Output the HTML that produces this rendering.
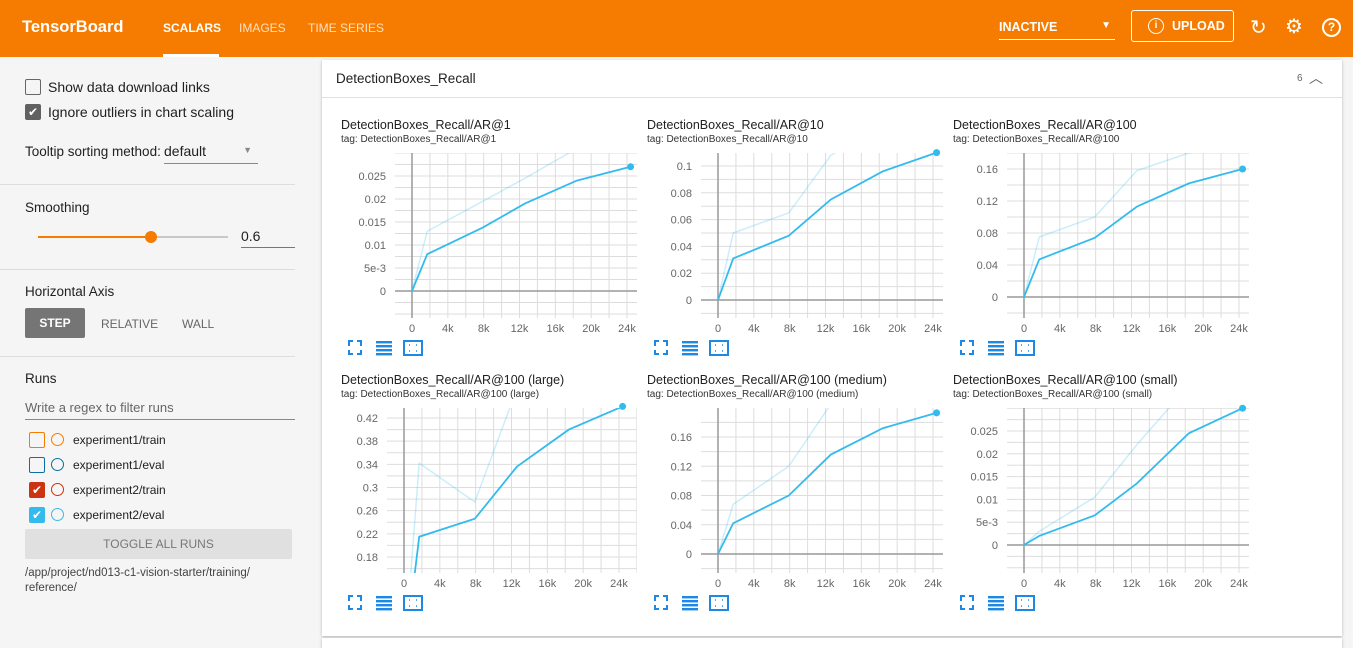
<!DOCTYPE html>
<html><head><meta charset="utf-8"><style>
body{margin:0;width:1353px;height:646px;overflow:hidden;font-family:"Liberation Sans",sans-serif;background:#f5f5f5;position:relative}
.abs{position:absolute}
#hdr{left:0;top:0;width:1353px;height:57px;background:#f57c00;color:#fff}
#side{left:0;top:57px;width:318px;height:589px;background:#f5f5f5;color:#212121;font-size:14px}
.sep{position:absolute;left:0;width:295px;height:1px;background:#ddd}
.cb{position:absolute;width:14px;height:14px;border:1.5px solid #666;border-radius:2px}
#card{left:322px;top:60px;width:1020px;height:576px;background:#fff;box-shadow:0 1px 3px rgba(0,0,0,.25)}
</style></head><body>
<div id="hdr" class="abs">
 <div class="abs" style="left:22px;top:18px;font-size:16.5px;font-weight:bold">TensorBoard</div>
 <div class="abs" style="left:163px;top:21px;font-size:12px;font-weight:bold">SCALARS</div>
 <div class="abs" style="left:163px;top:54px;width:56px;height:3px;background:#fff"></div>
 <div class="abs" style="left:239px;top:21px;font-size:12px;color:#ffe0c0">IMAGES</div>
 <div class="abs" style="left:308px;top:21px;font-size:12px;color:#ffe0c0">TIME SERIES</div>
 <div class="abs" style="left:999px;top:20px;width:116px;height:19px;border-bottom:1px solid #fff;font-size:12.5px;font-weight:bold">INACTIVE<span style="position:absolute;right:4px;top:0;font-size:10px">▼</span></div>
 <div class="abs" style="left:1131px;top:10px;width:103px;height:32px;border:1px solid #fff;border-radius:3px;font-size:12.5px;font-weight:bold;box-sizing:border-box;line-height:30px;padding-left:40px"><span style="position:absolute;left:16px;top:7px;width:14px;height:14px;border:1.5px solid #fff;border-radius:50%;font-size:10px;line-height:14px;text-align:center">i</span>UPLOAD</div>
 <div class="abs" style="left:1250px;top:15px;font-size:20px">↻</div>
 <div class="abs" style="left:1285px;top:14px;font-size:20px">⚙</div>
 <div class="abs" style="left:1322px;top:18px;width:15px;height:15px;border:2px solid #fff;border-radius:50%;font-size:12px;font-weight:bold;text-align:center;line-height:15px">?</div>
</div>
<div id="side" class="abs">
 <div class="cb" style="left:25px;top:22px"></div>
 <div class="abs" style="left:48px;top:22px">Show data download links</div>
 <div class="cb" style="left:25px;top:47px;background:#616161;border-color:#616161;color:#fff;font-size:12px;text-align:center;line-height:14px">✔</div>
 <div class="abs" style="left:48px;top:47px">Ignore outliers in chart scaling</div>
 <div class="abs" style="left:25px;top:87px;font-size:13.5px">Tooltip sorting method:</div>
 <div class="abs" style="left:164px;top:86px;width:94px;height:20px;border-bottom:1px solid #888">default<span style="position:absolute;right:6px;top:2px;font-size:9px;color:#888">▼</span></div>
 <div class="sep" style="top:127px"></div>
 <div class="abs" style="left:25px;top:143px;font-size:13.5px">Smoothing</div>
 <div class="abs" style="left:38px;top:179px;width:190px;height:2px;background:#c8c8c8"><div style="width:113px;height:2px;background:#f57c00"></div><div style="position:absolute;left:107px;top:-5px;width:12px;height:12px;border-radius:50%;background:#f57c00"></div></div>
 <div class="abs" style="left:241px;top:171px;width:54px;height:19px;border-bottom:1px solid #777">0.6</div>
 <div class="sep" style="top:212px"></div>
 <div class="abs" style="left:25px;top:227px;font-size:13.5px">Horizontal Axis</div>
 <div class="abs" style="left:25px;top:251px;width:60px;height:30px;background:#757575;color:#fff;border-radius:2px;font-size:12px;font-weight:bold;text-align:center;line-height:30px">STEP</div>
 <div class="abs" style="left:101px;top:260px;font-size:12px;color:#666">RELATIVE</div>
 <div class="abs" style="left:182px;top:260px;font-size:12px;color:#666">WALL</div>
 <div class="sep" style="top:299px"></div>
 <div class="abs" style="left:25px;top:314px;font-size:13.5px">Runs</div>
 <div class="abs" style="left:25px;top:343px;width:270px;height:19px;border-bottom:1px solid #888;font-size:13px;color:#666">Write a regex to filter runs</div>
 <div class="cb" style="left:29px;top:375px;border-color:#f57c00"></div>
 <div class="abs" style="left:51px;top:376px;width:11px;height:11px;border:1.5px solid #f57c00;border-radius:50%"></div>
 <div class="abs" style="left:73px;top:376px;font-size:12px">experiment1/train</div>
 <div class="cb" style="left:29px;top:400px;border-color:#0d6ea1"></div>
 <div class="abs" style="left:51px;top:401px;width:11px;height:11px;border:1.5px solid #0d6ea1;border-radius:50%"></div>
 <div class="abs" style="left:73px;top:401px;font-size:12px">experiment1/eval</div>
 <div class="cb" style="left:29px;top:425px;border-color:#cc3311;background:#cc3311;color:#fff;font-size:12px;text-align:center;line-height:14px">✔</div>
 <div class="abs" style="left:51px;top:426px;width:11px;height:11px;border:1.5px solid #cc3311;border-radius:50%"></div>
 <div class="abs" style="left:73px;top:426px;font-size:12px">experiment2/train</div>
 <div class="cb" style="left:29px;top:450px;border-color:#33bbee;background:#33bbee;color:#fff;font-size:12px;text-align:center;line-height:14px">✔</div>
 <div class="abs" style="left:51px;top:451px;width:11px;height:11px;border:1.5px solid #33bbee;border-radius:50%"></div>
 <div class="abs" style="left:73px;top:451px;font-size:12px">experiment2/eval</div>
 <div class="abs" style="left:25px;top:472px;width:267px;height:30px;background:#e0e0e0;color:#777;font-size:12px;text-align:center;line-height:30px;border-radius:2px">TOGGLE ALL RUNS</div>
 <div class="abs" style="left:25px;top:509px;font-size:11.5px;color:#444;line-height:15px">/app/project/nd013-c1-vision-starter/training/<br>reference/</div>
</div>
<div id="card" class="abs">
 <div class="abs" style="left:0;top:0;width:1020px;height:37px;border-bottom:1px solid #e0e0e0">
  <div class="abs" style="left:14px;top:11px;font-size:13.5px;color:#212121">DetectionBoxes_Recall</div>
  <div class="abs" style="left:975px;top:13px;font-size:10px;color:#666">6</div>
  <div class="abs" style="left:987px;top:8px;font-size:14px;color:#666">︿</div>
 </div>
</div>
<div class="abs" style="left:322px;top:638px;width:1020px;height:10px;background:#fff;box-shadow:0 1px 3px rgba(0,0,0,.25)"></div>
<svg id="charts" class="abs" style="left:0;top:0" width="1353" height="646"></svg>
<script>
const steps=[0,1700,7900,12600,18400,24400];
const titles=["DetectionBoxes_Recall/AR@1","DetectionBoxes_Recall/AR@10","DetectionBoxes_Recall/AR@100","DetectionBoxes_Recall/AR@100 (large)","DetectionBoxes_Recall/AR@100 (medium)","DetectionBoxes_Recall/AR@100 (small)"];
const smoothed1=[0,0.008,0.0138,0.019,0.024,0.027];
const raw1=[0,0.013,0.0195,0.0245,0.031,0.032];
const smoothed2=[0,0.031,0.048,0.075,0.096,0.11];
const raw2=[0,0.05,0.065,0.108,0.13,0.135];
const smoothed3=[0,0.047,0.074,0.113,0.142,0.16];
const raw3=[0,0.075,0.1,0.158,0.18,0.19];
const smoothed4=[0,0.215,0.246,0.336,0.4,0.44];
const raw4=[0,0.342,0.275,0.47,0.5,0.5];
const smoothed5=[0,0.042,0.08,0.136,0.172,0.193];
const raw5=[0,0.068,0.12,0.205,0.22,0.22];
const smoothed6=[0,0.002,0.0065,0.0135,0.0245,0.030];
const raw6=[0,0.003,0.0105,0.022,0.035,0.038];
const xTicks=[0,4000,8000,12000,16000,20000,24000];
const xTickLabels=["0","4k","8k","12k","16k","20k","24k"];
const yTicks1=[0,0.005,0.01,0.015,0.02,0.025];
const yTickLabels1=["0","5e-3","0.01","0.015","0.02","0.025"];
const yTicks2=[0,0.02,0.04,0.06,0.08,0.1];
const yTickLabels2=["0","0.02","0.04","0.06","0.08","0.1"];
const yTicks3=[0,0.04,0.08,0.12,0.16];
const yTickLabels3=["0","0.04","0.08","0.12","0.16"];
const yTicks4=[0.18,0.22,0.26,0.3,0.34,0.38,0.42];
const yTickLabels4=["0.18","0.22","0.26","0.3","0.34","0.38","0.42"];
const yTicks5=[0,0.04,0.08,0.12,0.16];
const yTickLabels5=["0","0.04","0.08","0.12","0.16"];
const yTicks6=[0,0.005,0.01,0.015,0.02,0.025];
const yTickLabels6=["0","5e-3","0.01","0.015","0.02","0.025"];

const NS="http://www.w3.org/2000/svg";
const svg=document.getElementById('charts');
function el(tag,at,parent){const e=document.createElementNS(NS,tag);for(const k in at)e.setAttribute(k,at[k]);(parent||svg).appendChild(e);return e;}
const cfg=[
 {col:0,row:0,x0:412,yA:[0,291],yB:[0.025,176],s:smoothed1,r:raw1,yt:yTicks1,yl:yTickLabels1,minor:0.0025},
 {col:1,row:0,x0:718,yA:[0,300],yB:[0.1,166],s:smoothed2,r:raw2,yt:yTicks2,yl:yTickLabels2,minor:0.01},
 {col:2,row:0,x0:1024,yA:[0,297],yB:[0.16,169],s:smoothed3,r:raw3,yt:yTicks3,yl:yTickLabels3,minor:0.02},
 {col:0,row:1,x0:404,yA:[0.18,557],yB:[0.42,418],s:smoothed4,r:raw4,yt:yTicks4,yl:yTickLabels4,minor:0.02},
 {col:1,row:1,x0:718,yA:[0,554],yB:[0.16,437],s:smoothed5,r:raw5,yt:yTicks5,yl:yTickLabels5,minor:0.02},
 {col:2,row:1,x0:1024,yA:[0,545],yB:[0.025,431],s:smoothed6,r:raw6,yt:yTicks6,yl:yTickLabels6,minor:0.0025}
];
cfg.forEach((c,i)=>{
 const g=el('g',{});
 
 
 const ox=c.col*306, oy=c.row*255;
 const L=c.x0-17, R=637+ox, T=153+oy, B=318+oy;
 const xs=v=>c.x0+v*(215/24000);
 const ys=v=>c.yA[1]+(v-c.yA[0])*(c.yB[1]-c.yA[1])/(c.yB[0]-c.yA[0]);
 const t=el('text',{x:341+ox,y:129+oy,'font-size':12.5,fill:'#212121'},g);t.textContent=titles[i];
 
 const tg=el('text',{x:341+ox,y:142+oy,'font-size':10,fill:'#333'},g);tg.textContent='tag: '+titles[i];
 
 const clip='clip'+i;
 const cp=el('clipPath',{id:clip},g);el('rect',{x:L,y:T,width:R-L,height:B-T},cp);
 const grid=el('g',{'clip-path':`url(#${clip})`},g);
 for(let s=-2000;s<=28000;s+=2000){const x=xs(s);if(x>=L&&x<=R)el('line',{x1:x,x2:x,y1:T,y2:B,stroke:'#ddd','stroke-width':1},grid);}
 const lo=c.yA[0]+(B-c.yA[1])/(c.yB[1]-c.yA[1])*(c.yB[0]-c.yA[0]);
 const hi=c.yA[0]+(T-c.yA[1])/(c.yB[1]-c.yA[1])*(c.yB[0]-c.yA[0]);
 for(let k=Math.ceil(lo/c.minor);k*c.minor<=hi;k++){const y=ys(k*c.minor);el('line',{x1:L,x2:R,y1:y,y2:y,stroke:'#ddd'},grid);}
 if(c.yA[0]===0){const y0=ys(0);el('line',{x1:L,x2:R,y1:y0,y2:y0,stroke:'#999','stroke-width':1.5},grid);}
 el('line',{x1:c.x0,x2:c.x0,y1:T,y2:B,stroke:'#999','stroke-width':1.5},grid);
 const ax=el('g',{},g);
 xTicks.forEach((v,j)=>{const tx=el('text',{x:xs(v),y:B+14,'font-size':11,fill:'#666','text-anchor':'middle'},ax);tx.textContent=xTickLabels[j];});
 const ay=el('g',{},g);
 c.yt.forEach((v,j)=>{const ty=el('text',{x:L-9,y:ys(v)+4,'font-size':11,fill:'#666','text-anchor':'end'},ay);ty.textContent=c.yl[j];});
 const pr=steps.map((s,j)=>xs(s)+','+ys(c.r[j])).join(' ');
 const rl=el('polyline',{points:pr,fill:'none',stroke:'#33bbee','stroke-opacity':0.25,'stroke-width':1.5},grid);
 
 const ps=steps.map((s,j)=>xs(s)+','+ys(c.s[j])).join(' ');
 const sl=el('polyline',{points:ps,fill:'none',stroke:'#33bbee','stroke-width':1.8},grid);
 
 const n=steps.length-1;
 const dot=el('circle',{cx:xs(steps[n]),cy:ys(c.s[n]),r:3.5,fill:'#33bbee'},g);
 
 const iy=348+oy;
 const i1=el('g',{},g);
 el('path',{d:`M${349+ox} ${iy-2}v-5h4M${357+ox} ${iy-7}h4v5M${361+ox} ${iy+2}v4h-4M${353+ox} ${iy+6}h-4v-4`,stroke:'#1e88e5','stroke-width':2,fill:'none'},i1);
 const i2=el('g',{},g);
 for(let k=0;k<4;k++)el('rect',{x:376+ox,y:iy-7+k*4,width:16,height:2.4,fill:'#1e88e5'},i2);
 const i3=el('g',{},g);
 el('rect',{x:404+ox,y:iy-7,width:18,height:14,fill:'none',stroke:'#1e88e5','stroke-width':2},i3);
 el('path',{d:`M${409+ox} ${iy-3}h1M${416+ox} ${iy-3}h1M${409+ox} ${iy+3}h1M${416+ox} ${iy+3}h1`,stroke:'#1e88e5','stroke-width':1.5},i3);
});
</script>
</body></html>
